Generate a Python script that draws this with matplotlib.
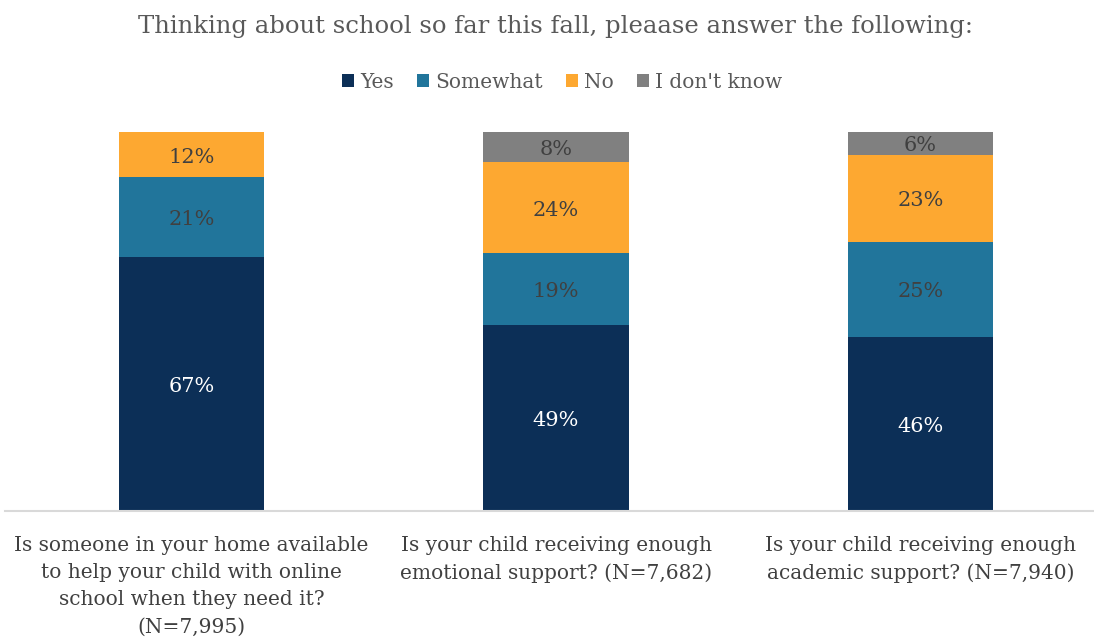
import matplotlib.pyplot as plt
from matplotlib.patches import Patch
import numpy as np

questions = [
    "Is someone in your home available\nto help your child with online\nschool when they need it?\n(N=7,995)",
    "Is your child receiving enough\nemotional support? (N=7,682)",
    "Is your child receiving enough\nacademic support? (N=7,940)",
]
series = ["Yes", "Somewhat", "No", "I don't know"]
yes = [67, 49, 46]
somewhat = [21, 19, 25]
no = [12, 24, 23]
dont_know = [0, 8, 6]

colors = ["#0c2f57", "#21759b", "#fda831", "#808080"]
label_colors = ["white", "#404040", "#404040", "#404040"]

plt.rcParams["font.family"] = ["DejaVu Serif"]

fig = plt.figure(figsize=(10.94, 6.39), dpi=100)
W, H = 1094, 639
ax = fig.add_axes([5 / W, 1 - 511 / H, 1089 / W, 379 / H])

x = np.arange(len(questions))
bottom = np.zeros(len(questions))
for vals, col, lc in zip([yes, somewhat, no, dont_know], colors, label_colors):
    vals = np.array(vals, dtype=float)
    ax.bar(x, vals, bottom=bottom, width=0.398, color=col, zorder=2)
    for xi, v, b in zip(x, vals, bottom):
        if v > 0:
            ax.text(xi, b + v / 2 - 0.6, f"{v:.0f}%", ha="center", va="center",
                    color=lc, fontsize=15)
    bottom += vals

ax.set_xlim(-0.5117, 2.476)
ax.set_ylim(0, 100)
ax.set_yticks([])
ax.set_xticks([])
for side in ["top", "right", "left"]:
    ax.spines[side].set_visible(False)
ax.spines["bottom"].set_color("#d9d9d9")
ax.spines["bottom"].set_linewidth(1.5)
ax.spines["bottom"].set_zorder(3)

for xi, q in zip(x, questions):
    ax.text(xi, -6.5, q, ha="center", va="top", color="#404040",
            fontsize=14.5, linespacing=1.55)

fig.text(555 / W, 1 - 26 / H, "Thinking about school so far this fall, pleaase answer the following:",
         ha="center", va="center", color="#595959", fontsize=17.5)

handles = [Patch(facecolor=c, label=s) for c, s in zip(colors, series)]
fig.legend(handles=handles, loc="center", bbox_to_anchor=(562 / W, 1 - 82 / H), ncol=4,
           frameon=False, fontsize=14.5, handlelength=0.6, handleheight=0.6,
           handletextpad=0.3, columnspacing=1.15, labelcolor="#595959")

fig.savefig("out.png", dpi=100)
